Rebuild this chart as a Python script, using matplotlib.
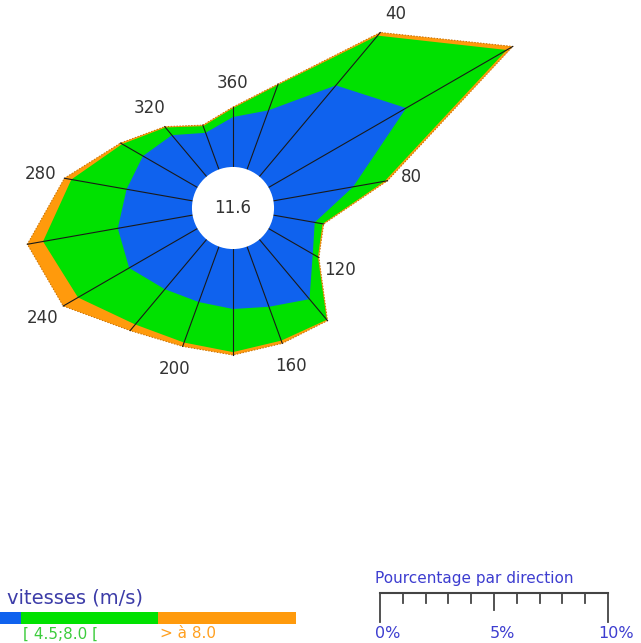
"""
Rose des vents : pourcentage par direction et par classe de vitesse
"""

import numpy as np
import matplotlib
matplotlib.use("Agg")
import matplotlib.pyplot as plt
from matplotlib.patches import Circle, Rectangle


# directions (degres, depuis le nord, sens horaire)
DIRECTIONS = np.arange(0, 360, 20)

# pourcentages par classe de vitesse, une valeur par direction
PCT_LOW = [2.19, 2.76, 5.22, 6.97, 3.55, 1.84, 2.24, 3.42, 2.81,
           2.63, 2.59, 2.85, 3.46, 3.33, 2.94, 2.76, 2.37, 1.71]       # < 4.5 m/s
PCT_MID = [0.39, 1.18, 2.85, 5.09, 1.40, 0.35, 0.26, 1.18, 1.58,
           1.89, 1.89, 2.02, 2.59, 3.33, 2.46, 1.05, 0.44, 0.31]       # [4.5;8.0[
PCT_HIGH = [0.05, 0.05, 0.18, 0.31, 0.13, 0.05, 0.05, 0.05, 0.13,
            0.13, 0.18, 0.35, 0.75, 0.70, 0.31, 0.09, 0.05, 0.05]      # > 8.0

CALM = 11.6                                                            # calmes (%)
LABELED_DIRS = [40, 80, 120, 160, 200, 240, 280, 320, 360]
SPEED_LABELS = ["< 4.5", "[ 4.5;8.0 [", "> à 8.0"]
SCALE_TICKS = list(range(0, 11))
SCALE_LABELS = {0: "0%", 5: "5%", 10: "10%"}

COLORS = ["#0f62ee", "#00e100", "#ff9a0c"]
LABEL_COLORS = ["#0f62ee", "#3ccc3c", "#ffa020"]

# mise en page (pixels)
W, H = 641, 643
CX, CY = 233, 208                                                      # centre de la rose
PX = 22.8                                                              # pixels par pourcent
HOLE = 1.8                                                             # rayon du cercle central


def px(x):
    return (x - CX) / PX


def py(y):
    return (CY - y) / PX


fig = plt.figure(figsize=(W / 100, H / 100), dpi=100)
ax = fig.add_axes([0, 0, 1, 1])
ax.set_xlim(px(0), px(W))
ax.set_ylim(py(H), py(0))
ax.axis("off")

theta = np.radians(DIRECTIONS)
r_low = HOLE + np.array(PCT_LOW)
r_mid = r_low + np.array(PCT_MID)
r_high = r_mid + np.array(PCT_HIGH)

# bandes empilees, de l'exterieur vers l'interieur
for r, c in zip([r_high, r_mid, r_low], COLORS[::-1]):
    ax.fill(r * np.sin(theta), r * np.cos(theta), color=c, lw=0, zorder=1)

# contour exterieur
xo = np.append(r_high * np.sin(theta), r_high[0] * np.sin(theta[0]))
yo = np.append(r_high * np.cos(theta), r_high[0] * np.cos(theta[0]))
ax.plot(xo, yo, color="#c87000", lw=0.7, ls=(0, (1.5, 1.5)), zorder=2)

# rayons
for t, r in zip(theta, r_high):
    ax.plot([HOLE * np.sin(t), r * np.sin(t)], [HOLE * np.cos(t), r * np.cos(t)],
            color="#1a1a1a", lw=0.8, zorder=3)

ax.add_patch(Circle((0, 0), HOLE, fc="white", ec="none", zorder=5))
ax.text(0, 0, "{:.1f}".format(CALM), ha="center", va="center",
        fontsize=12, color="#333333", zorder=6)

# etiquettes des directions
for d in LABELED_DIRS:
    i = list(DIRECTIONS).index(d % 360)
    r = r_high[i] + 1.05
    t = np.radians(d)
    ax.text(r * np.sin(t), r * np.cos(t), str(d), ha="center", va="center",
            fontsize=12, color="#333333")

# legende des vitesses
ax.text(px(7), py(598), "vitesses (m/s)", ha="left", va="center",
        fontsize=14, color="#3c3ca8")
seg_w = 137.5
x0 = 21 - seg_w
for k, (lab, c, lc) in enumerate(zip(SPEED_LABELS, COLORS, LABEL_COLORS)):
    xs = x0 + k * seg_w
    ax.add_patch(Rectangle((px(xs), py(624)), seg_w / PX, 12 / PX,
                           fc=c, ec="none", clip_on=True))
    if xs >= 0:
        ax.text(px(xs + 2), py(634), lab, ha="left", va="center",
                fontsize=11, color=lc)

# echelle
sx0 = px(380)
ax.text(px(375), py(578), "Pourcentage par direction", ha="left", va="center",
        fontsize=11, color="#3d3dd0")
ax.plot([sx0, sx0 + SCALE_TICKS[-1]], [py(593), py(593)], color="#444444", lw=1.5)
for s in SCALE_TICKS:
    if s in (SCALE_TICKS[0], SCALE_TICKS[-1]):
        bottom = 622
    elif s == 5:
        bottom = 610
    else:
        bottom = 603
    ax.plot([sx0 + s, sx0 + s], [py(593), py(bottom)], color="#444444", lw=1.3)
for s, lab in SCALE_LABELS.items():
    ax.text(sx0 + s + 0.35, py(633), lab, ha="center", va="center",
            fontsize=11.5, color="#3d3dd0")

fig.savefig("out.png", dpi=100)
